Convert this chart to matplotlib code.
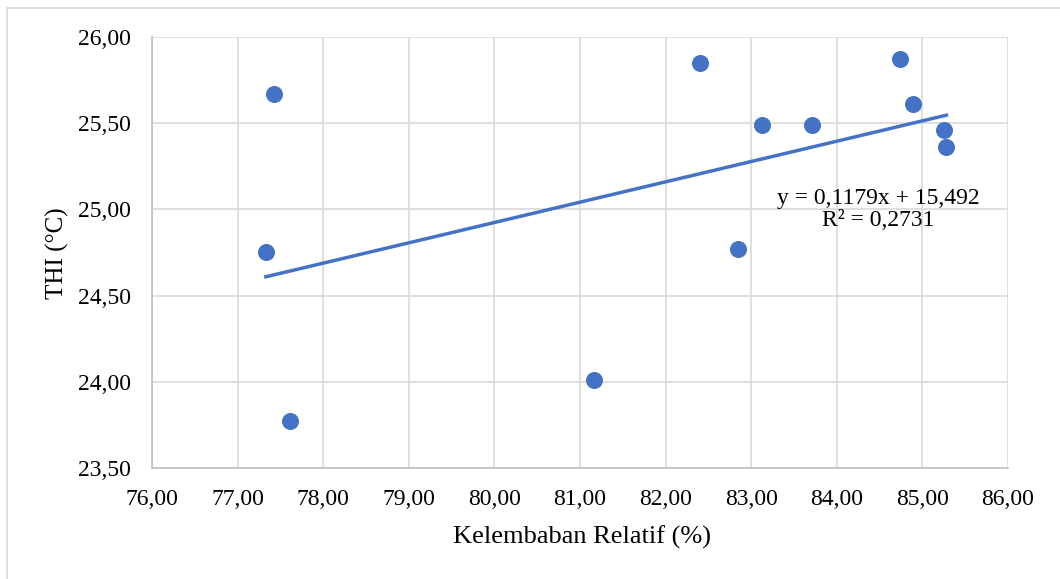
import matplotlib
matplotlib.use("Agg")
import matplotlib.pyplot as plt
import numpy as np
from matplotlib.ticker import FuncFormatter, MultipleLocator

plt.rcParams['font.family'] = ['Liberation Serif', 'DejaVu Serif']

# Data
rh = [77.43, 77.33, 77.61, 81.16, 82.40, 82.85, 83.13, 83.71, 84.74, 84.89, 85.25, 85.28]
thi = [25.67, 24.75, 23.77, 24.01, 25.85, 24.77, 25.49, 25.49, 25.87, 25.61, 25.46, 25.36]
slope = 0.1179
intercept = 15.492
r2 = 0.2731
x_label = "Kelembaban Relatif (%)"
y_label = "THI (°C)"

fig = plt.figure(figsize=(10.6, 5.79), dpi=100)
ax = fig.add_axes([152/1060, 1-468/579, (1008-152)/1060, (468-37)/579])

ax.scatter(rh, thi, s=150, color='#4472C4', zorder=3, linewidths=0)
xs = np.array([min(rh), max(rh)])
ax.plot(xs, slope*xs + intercept, color='#4472C4', lw=2.5, zorder=2)

ax.set_xlim(76, 86)
ax.set_ylim(23.5, 26)
ax.xaxis.set_major_locator(MultipleLocator(1))
ax.yaxis.set_major_locator(MultipleLocator(0.5))
fmt = FuncFormatter(lambda v, p: f"{v:.2f}".replace('.', ','))
ax.xaxis.set_major_formatter(fmt)
ax.yaxis.set_major_formatter(fmt)
ax.grid(True, color='#D9D9D9', lw=1.2)
ax.set_axisbelow(True)
for s in ['top', 'right']:
    ax.spines[s].set_visible(False)
for s in ['left', 'bottom']:
    ax.spines[s].set_color('#BFBFBF')
    ax.spines[s].set_linewidth(1.2)
ax.tick_params(length=0, labelsize=17, colors='black')
ax.tick_params(axis='y', pad=15)
ax.tick_params(axis='x', pad=15)
ax.set_xlabel(x_label, fontsize=19, va='center')
ax.set_ylabel(y_label, fontsize=18, va='center')
ax.xaxis.set_label_coords((582-152)/856, (468-537)/431)
ax.yaxis.set_label_coords((57-152)/856, (468-253)/431)

eq = f"y = {slope:.4f}x + {intercept:.3f}".replace('.', ',') + "\n" + f"R² = {r2:.4f}".replace('.', ',')
ax.text(84.49, 25.0, eq, ha='center', va='center', multialignment='center', fontsize=17, linespacing=1.1)

# chart border (left and top)
fig.add_artist(plt.Line2D([7/1060, 7/1060], [0, 1-8/579], color='#D9D9D9', lw=1.2, transform=fig.transFigure))
fig.add_artist(plt.Line2D([7/1060, 1], [1-8/579, 1-8/579], color='#D9D9D9', lw=1.2, transform=fig.transFigure))

fig.savefig("out.png", dpi=100)
